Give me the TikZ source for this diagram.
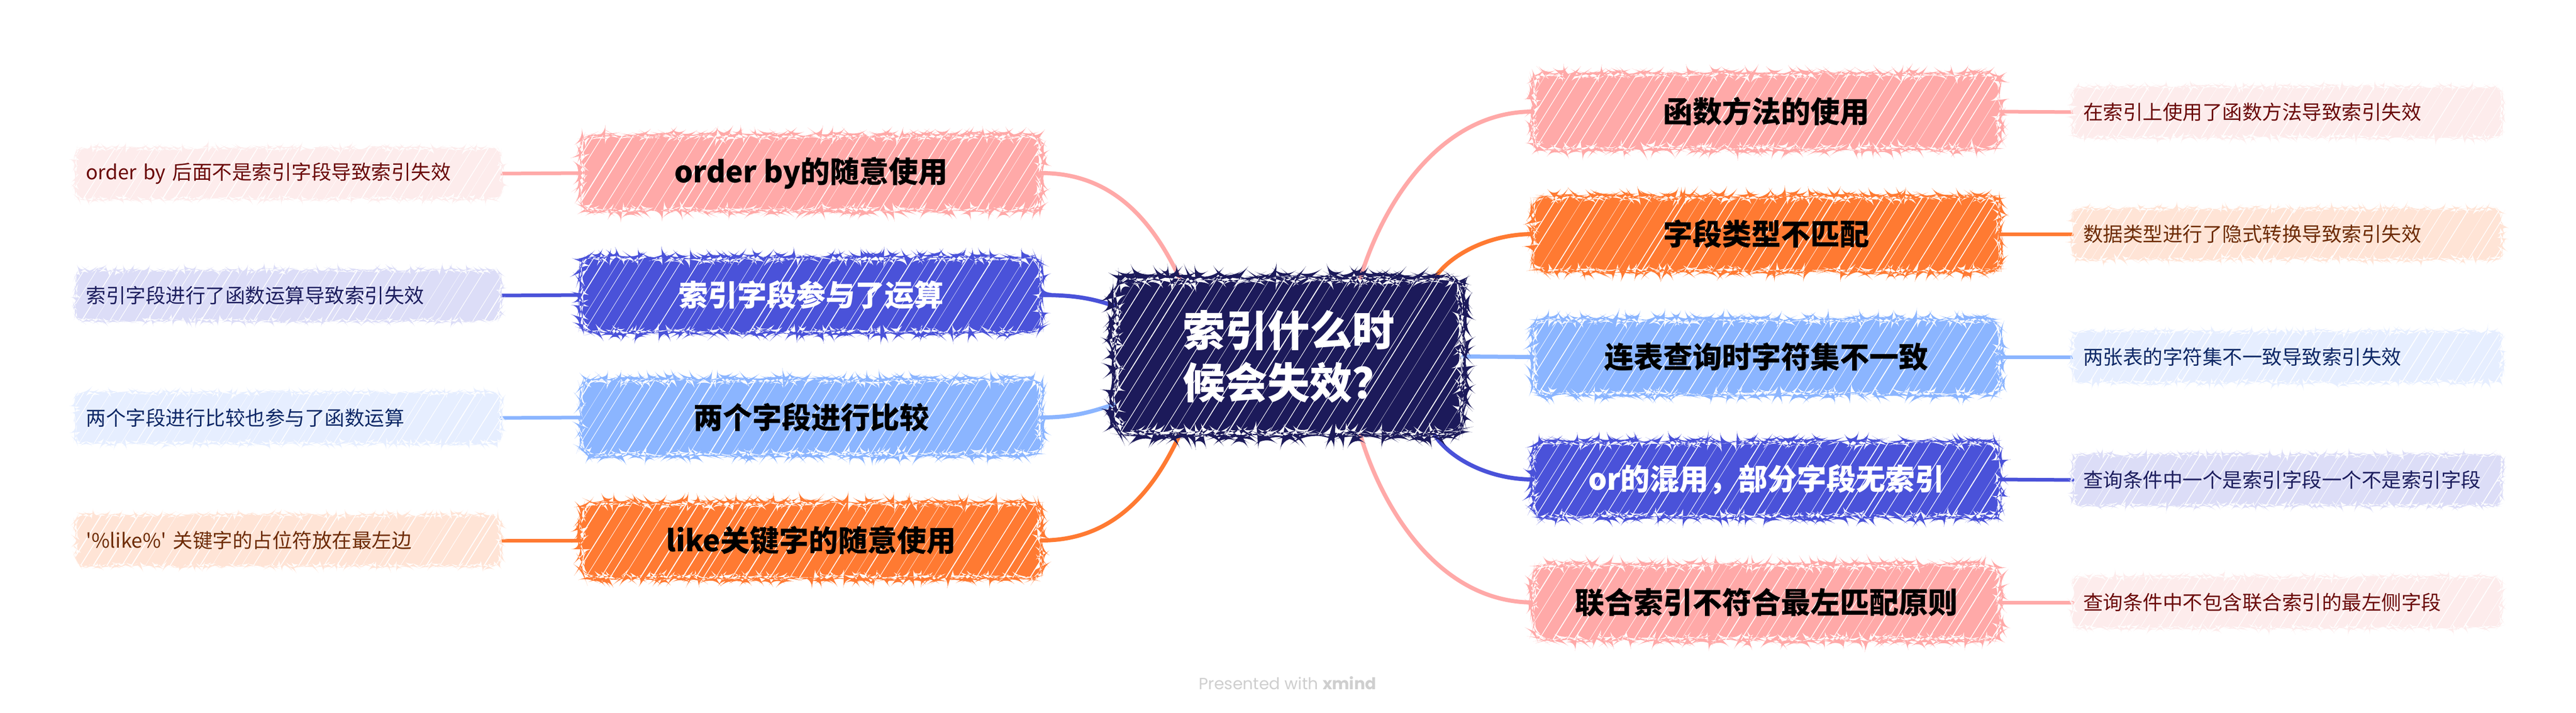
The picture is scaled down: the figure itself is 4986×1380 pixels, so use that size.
\documentclass[tikz,border=0pt]{standalone}
\usepackage{fontspec}
\newfontfamily\cjk{Noto Sans CJK SC}
\newfontfamily\popp{Poppins}
\usetikzlibrary{decorations.pathmorphing,backgrounds}
\definecolor{cnavy}{HTML}{1C1A5A}
\definecolor{cpink}{HTML}{FFA9A8}
\definecolor{cpinkl}{HTML}{FDECEC}
\definecolor{cblue}{HTML}{4A52D9}
\definecolor{cbluel}{HTML}{DCDDF7}
\definecolor{clblue}{HTML}{8BB5FF}
\definecolor{clbluel}{HTML}{E6EEFF}
\definecolor{corange}{HTML}{FF7A32}
\definecolor{corangel}{HTML}{FFE4D6}
\definecolor{tred}{HTML}{6B0A0A}
\definecolor{tnavy}{HTML}{1D1E5E}
\definecolor{tdblue}{HTML}{0E2866}
\definecolor{tbrown}{HTML}{6E2C06}
\definecolor{cgray}{HTML}{CFCFCF}
\pgfmathsetseed{7}
\tikzset{
  hatch/.style={path picture={
     \foreach \k in {-12,...,40}{
       \pgfmathsetmacro\off{\k*26+16*rnd}
       \pgfmathsetmacro\lw{0.4+1.6*rnd}
       \draw[white, line width=\lw pt] ([xshift=\off pt]path picture bounding box.south west) -- ++(58:560pt);
     }}},
  sk/.style={draw=none, rounded corners=22pt, hatch,
     preaction={fill=#1, decorate, decoration={random steps, segment length=5pt, amplitude=3.5pt}}},
  mainbox/.style={sk=#1, minimum height=145pt, inner sep=0pt,
     font=\cjk\bfseries\fontsize{57}{64}\selectfont},
  mainL/.style={mainbox=#1, minimum width=891pt},
  mainR/.style={mainbox=#1, minimum width=904pt},
  leafbox/.style={sk=#1, rounded corners=14pt, minimum height=98pt, inner xsep=20pt, inner ysep=0pt, align=left,
     font=\cjk\fontsize{38.5}{44}\selectfont},
  leafL/.style={leafbox=#1, text width=783pt},
  leafR/.style={leafbox=#1, text width=790pt},
  conn/.style={draw=#1, line width=8pt, line cap=round},
  lconn/.style={draw=#1, line width=7pt, line cap=round},
}
\begin{document}
\begin{tikzpicture}[x=1pt,y=-1pt]
\useasboundingbox (0,0) rectangle (4986,1380);
% central topic
\node[sk=cnavy, rounded corners=30pt, minimum width=676pt, minimum height=304pt, inner sep=0pt, text=white, align=center,
  font=\cjk\bfseries\fontsize{82}{101}\selectfont] (c) at (2494,690) {索引什么时\\候会失效？};
% left main topics
\node[mainL=cpink, text=black] (l1) at (1570,335) {order by的随意使用};
\node[mainL=cblue, text=white] (l2) at (1570,571) {索引字段参与了运算};
\node[mainL=clblue, text=black] (l3) at (1570,808) {两个字段进行比较};
\node[mainL=corange, text=black] (l4) at (1570,1046) {like关键字的随意使用};
% left leaves
\node[leafL=cpinkl, text=tred] (ll1) at (558,336) {order by 后面不是索引字段导致索引失效};
\node[leafL=cbluel, text=tnavy] (ll2) at (558,572) {索引字段进行了函数运算导致索引失效};
\node[leafL=clbluel, text=tdblue] (ll3) at (558,809) {两个字段进行比较也参与了函数运算};
\node[leafL=corangel, text=tbrown] (ll4) at (558,1046) {'\%like\%' 关键字的占位符放在最左边};
% right main topics
\node[mainR=cpink, text=black] (r1) at (3419,216) {函数方法的使用};
\node[mainR=corange, text=black] (r2) at (3419,453) {字段类型不匹配};
\node[mainR=clblue, text=black] (r3) at (3419,691) {连表查询时字符集不一致};
\node[mainR=cblue, text=white] (r4) at (3419,928) {or的混用，部分字段无索引};
\node[mainR=cpink, text=black] (r5) at (3419,1166) {联合索引不符合最左匹配原则};
% right leaves
\node[leafR=cpinkl, text=tred] (rl1) at (4427,217) {在索引上使用了函数方法导致索引失效};
\node[leafR=corangel, text=tbrown] (rl2) at (4427,453) {数据类型进行了隐式转换导致索引失效};
\node[leafR=clbluel, text=tdblue] (rl3) at (4427,691) {两张表的字符集不一致导致索引失效};
\node[leafR=cbluel, text=tnavy] (rl4) at (4427,929) {查询条件中一个是索引字段一个不是索引字段};
\node[leafR=cpinkl, text=tred] (rl5) at (4427,1166) {查询条件中不包含联合索引的最左侧字段};
% footer
\node[text=cgray, font=\popp\fontsize{31.5}{36}\selectfont] (pw) at (2492,1322) {Presented with \textbf{xmind}};
\begin{pgfonlayer}{background}
\fill[white] (0,0) rectangle (4986,1380);
% center to main topics
\draw[conn=cpink] (l1.east) .. controls (2140,335) and (2223,410) .. ([xshift=127pt]c.north west);
\draw[conn=cblue] (l2.east) .. controls (2080,571) and (2115,578) .. ([yshift=-54pt]c.north west);
\draw[conn=clblue] (l3.east) .. controls (2080,808) and (2115,796) .. ([yshift=-245pt]c.north west);
\draw[conn=corange] (l4.east) .. controls (2140,1046) and (2223,972) .. ([xshift=127pt]c.south west);
\draw[conn=cpink] (r1.west) .. controls (2790,216) and (2678,390) .. ([xshift=-199pt]c.north east);
\draw[conn=corange] (r2.west) .. controls (2880,453) and (2805,495) .. ([xshift=-55pt]c.north east);
\draw[conn=clblue] (r3.west) -- (c.east);
\draw[conn=cblue] (r4.west) .. controls (2880,928) and (2805,886) .. ([xshift=-55pt]c.south east);
\draw[conn=cpink] (r5.west) .. controls (2790,1166) and (2678,992) .. ([xshift=-199pt]c.south east);
% main topics to leaves
\draw[lconn=cpink] (l1.west) -- (ll1.east);
\draw[lconn=cblue] (l2.west) -- (ll2.east);
\draw[lconn=clblue] (l3.west) -- (ll3.east);
\draw[lconn=corange] (l4.west) -- (ll4.east);
\draw[lconn=cpink] (r1.east) -- (rl1.west);
\draw[lconn=corange] (r2.east) -- (rl2.west);
\draw[lconn=clblue] (r3.east) -- (rl3.west);
\draw[lconn=cblue] (r4.east) -- (rl4.west);
\draw[lconn=cpink] (r5.east) -- (rl5.west);
\end{pgfonlayer}
\end{tikzpicture}
\end{document}
